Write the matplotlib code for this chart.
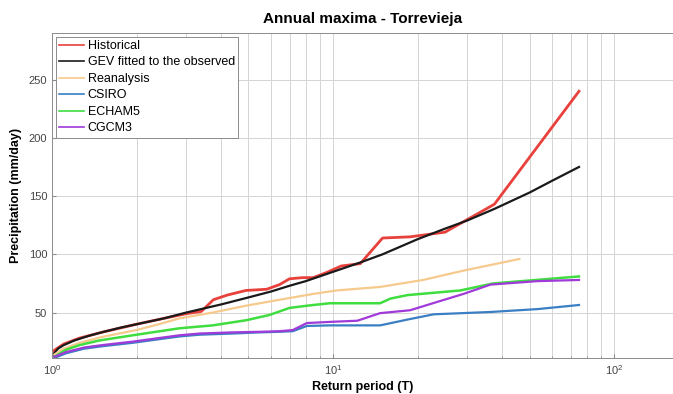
import matplotlib
matplotlib.use("Agg")
import matplotlib.pyplot as plt
from matplotlib.ticker import LogLocator, NullFormatter

plt.rcParams['font.family'] = ['Liberation Sans', 'DejaVu Sans']

# Return periods (T) and precipitation (mm/day)
T_hist = [1.01, 1.1, 1.25, 1.5, 2.0, 2.5, 3.0, 3.4, 3.75, 4.2, 4.9, 5.8, 6.45,
          7.0, 7.8, 8.5, 9.4, 10.7, 12.5, 15.0, 18.75, 25.0, 37.5, 75.0]
v_hist = [17, 23, 28, 33, 40, 45, 49, 51, 61, 65, 69, 70, 74,
          79, 80, 80, 84, 90, 92, 114, 115, 119, 143, 240]

T_gev = [1.01, 1.05, 1.1, 1.2, 1.35, 1.5, 1.75, 2, 2.5, 3, 4, 5, 6, 7, 8, 10,
         12.5, 15, 20, 25, 30, 37.5, 50, 60, 75]
v_gev = [14, 19, 22, 26, 30, 33, 37, 40, 45, 50, 57, 63, 68, 73, 77, 85,
         93, 100, 113, 122, 129, 139, 153, 163, 175]

T_rean = [1.02, 1.1, 1.25, 1.5, 2.0, 2.4, 2.84, 3.73, 4.93, 6.45, 8.5, 10.3,
          14.7, 20.9, 29.1, 46.0]
v_rean = [14, 19, 24, 29, 35, 40, 45, 50, 56, 61, 66, 69,
          72, 78, 86, 96]

T_csiro = [1.02, 1.12, 1.3, 1.5, 1.93, 2.84, 3.35, 4.39, 5.5, 6.45, 7.19,
           8.07, 9.75, 14.7, 18.4, 22.8, 36.3, 53.5, 75]
v_csiro = [11, 15, 19, 21, 24, 29.5, 31, 32, 33, 33.5, 34,
           38.5, 39, 39, 44, 48.5, 50.5, 53, 56.5]

T_echam = [1.02, 1.12, 1.25, 1.47, 2.0, 2.84, 3.73, 4.93, 5.95, 7.0, 8.5,
           9.75, 14.7, 16.0, 18.4, 28.4, 37.1, 59.4, 75]
v_echam = [12, 18, 22, 26, 31, 36.5, 39, 43.5, 48, 54, 56.5,
           58, 58, 62, 65, 69, 75, 79, 81]

T_cgcm = [1.02, 1.12, 1.3, 1.5, 1.93, 2.84, 3.35, 4.39, 5.5, 6.45, 7.19,
          8.07, 9.75, 12.2, 14.7, 18.8, 24.1, 29.1, 36.3, 53.5, 75]
v_cgcm = [12, 16, 20, 22, 25, 30.5, 32, 33, 33.5, 34, 35,
          41, 42, 43, 49.5, 52, 60, 66, 74, 77, 78]

series = [
    ("Historical", T_hist, v_hist, "#e8413c", 2.0),
    ("GEV fitted to the observed", T_gev, v_gev, "#1a1a1a", 1.6),
    ("Reanalysis", T_rean, v_rean, "#f6c98c", 1.6),
    ("CSIRO", T_csiro, v_csiro, "#3a7fc4", 1.6),
    ("ECHAM5", T_echam, v_echam, "#3fdd3f", 1.8),
    ("CGCM3", T_cgcm, v_cgcm, "#a03ad8", 1.6),
]

fig = plt.figure(figsize=(6.73, 3.94), dpi=100)
ax = fig.add_axes([52 / 673, 36 / 394, 621 / 673, 325 / 394])

for label, T, v, color, lw in series:
    ax.plot(T, v, color=color, lw=lw, label=label)

ax.set_xscale("log")
ax.set_xlim(1, 162)
ax.set_ylim(11, 290)
ax.set_yticks([50, 100, 150, 200, 250])
ax.xaxis.set_major_locator(LogLocator(base=10))
ax.xaxis.set_minor_locator(LogLocator(base=10, subs=range(2, 10)))
ax.xaxis.set_minor_formatter(NullFormatter())

ax.grid(True, which="major", color="#d4d4d4", lw=0.7)
ax.grid(True, which="minor", axis="x", color="#d4d4d4", lw=0.7)
ax.set_axisbelow(True)

for s in ax.spines.values():
    s.set_color("#8c8c8c")
    s.set_linewidth(0.7)
ax.tick_params(which="both", direction="in", colors="#8c8c8c",
               labelcolor="#444444", labelsize=8, length=3)
ax.tick_params(which="minor", length=1.5)

ax.set_title("Annual maxima - Torrevieja", fontsize=11, fontweight="bold", pad=7)
ax.set_xlabel("Return period (T)", fontsize=9, fontweight="bold", labelpad=3)
ax.set_ylabel("Precipitation (mm/day)", fontsize=9, fontweight="bold", labelpad=5)

leg = ax.legend(loc="upper left", fontsize=9, handlelength=2.0,
                labelspacing=0.36, borderaxespad=0.3, fancybox=False,
                framealpha=1, handletextpad=0.3, borderpad=0.25)
leg.get_frame().set_edgecolor("#8c8c8c")
leg.get_frame().set_linewidth(0.7)
for line in leg.get_lines():
    line.set_linewidth(1.2)

fig.savefig("out.png", dpi=100)
